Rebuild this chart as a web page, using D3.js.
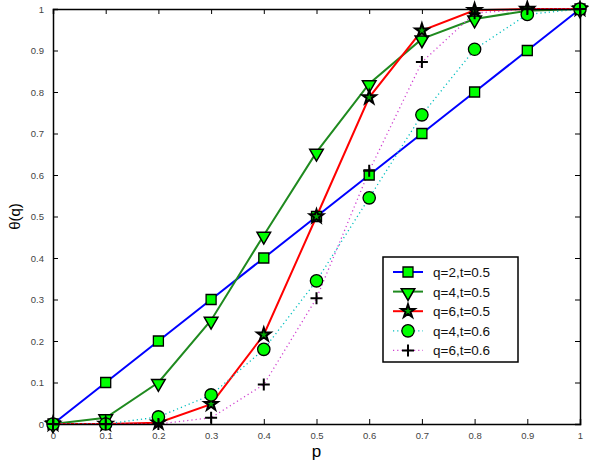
<!DOCTYPE html>
<html>
<head>
<meta charset="utf-8">
<script src="https://cdn.jsdelivr.net/npm/d3@7.9.0/dist/d3.min.js"></script>
<style>
  body { margin: 0; background: #fff; }
  svg { display: block; font-family: "Liberation Sans", Arial, sans-serif; }
</style>
</head>
<body>
<svg id="chart"></svg>
<script>
const pValues = [0, 0.1, 0.2, 0.3, 0.4, 0.5, 0.6, 0.7, 0.8, 0.9, 1];
const q2t05 = [0, 0.1, 0.2, 0.3, 0.4, 0.5, 0.6, 0.7, 0.8, 0.9, 1];
const q4t05 = [0, 0.015, 0.1, 0.25, 0.455, 0.655, 0.82, 0.928, 0.976, 0.996, 1];
const q6t05 = [0, 0.0, 0.003, 0.048, 0.215, 0.5, 0.787, 0.948, 0.997, 1, 1];
const q4t06 = [0, 0.0, 0.017, 0.07, 0.18, 0.345, 0.545, 0.745, 0.903, 0.987, 1];
const q6t06 = [0, 0.0, 0.0, 0.015, 0.095, 0.303, 0.61, 0.872, 0.99, 1, 1];
const xTicks = [0, 0.1, 0.2, 0.3, 0.4, 0.5, 0.6, 0.7, 0.8, 0.9, 1];
const yTicks = [0, 0.1, 0.2, 0.3, 0.4, 0.5, 0.6, 0.7, 0.8, 0.9, 1];
const seriesNames = ["q=2,t=0.5", "q=4,t=0.5", "q=6,t=0.5", "q=4,t=0.6", "q=6,t=0.6"];

const svgWidth = 589, svgHeight = 464;
const margin = { top: 9, right: 9, bottom: 40, left: 53 };
const width = svgWidth - margin.left - margin.right;
const height = svgHeight - margin.top - margin.bottom;

const svg = d3.select("#chart").attr("width", svgWidth).attr("height", svgHeight);
const g = svg.append("g").attr("transform", `translate(${margin.left},${margin.top})`);

const xScale = d3.scaleLinear().domain([0, 1]).range([0, width]);
const yScale = d3.scaleLinear().domain([0, 1]).range([height, 0]);

const series = [
  { name: seriesNames[0], values: q2t05, color: "#0000ff", dash: null, marker: "square" },
  { name: seriesNames[1], values: q4t05, color: "#1f8a1f", dash: null, marker: "tri" },
  { name: seriesNames[2], values: q6t05, color: "#ff0000", dash: null, marker: "star" },
  { name: seriesNames[3], values: q4t06, color: "#00bfbf", dash: "1.2 3", marker: "circle" },
  { name: seriesNames[4], values: q6t06, color: "#d040d0", dash: "1.2 3", marker: "plus" }
];

const line = d3.line()
  .x((d, i) => xScale(pValues[i]))
  .y(d => yScale(d));

// lines first, then markers on top
series.forEach(s => {
  g.append("path")
    .datum(s.values)
    .attr("d", line)
    .attr("fill", "none")
    .attr("stroke", s.color)
    .attr("stroke-width", s.dash ? 1.3 : 2)
    .attr("stroke-dasharray", s.dash);
});

const symbols = {
  square: d3.symbol().type(d3.symbolSquare).size(100),
  tri: d3.symbol().type(d3.symbolTriangle).size(80),
  star: d3.symbol().type(d3.symbolStar).size(55),
  circle: d3.symbol().type(d3.symbolCircle).size(120),
  plus: d3.symbol().type(d3.symbolCross).size(100)
};

function drawMarker(sel, kind) {
  if (kind === "plus") {
    sel.append("path").attr("d", "M-6,0H6M0,-6V6")
      .attr("stroke", "#000").attr("stroke-width", 2).attr("fill", "none");
  } else if (kind === "tri") {
    sel.append("path").attr("d", symbols.tri()).attr("transform", "rotate(180) translate(0,-1)")
      .attr("fill", "#00ff00").attr("stroke", "#000").attr("stroke-width", 1.5);
  } else if (kind === "star") {
    sel.append("path").attr("d", symbols.star())
      .attr("fill", "#00aa00").attr("stroke", "#000").attr("stroke-width", 2);
  } else {
    sel.append("path").attr("d", symbols[kind]())
      .attr("fill", "#00ff00").attr("stroke", "#000").attr("stroke-width", 1.3);
  }
}

series.forEach(s => {
  s.values.forEach((v, i) => {
    const m = g.append("g").attr("transform", `translate(${xScale(pValues[i])},${yScale(v)})`);
    drawMarker(m, s.marker);
  });
});

// axes box
const xAxisB = d3.axisBottom(xScale).tickValues(xTicks).tickSize(-5).tickPadding(8).tickFormat(d3.format("~g"));
const xAxisT = d3.axisTop(xScale).tickValues(xTicks).tickSize(-5).tickFormat("");
const yAxisL = d3.axisLeft(yScale).tickValues(yTicks).tickSize(-5).tickPadding(9).tickFormat(d3.format("~g"));
const yAxisR = d3.axisRight(yScale).tickValues(yTicks).tickSize(-5).tickFormat("");

function styleAxis(ax) {
  ax.select(".domain").attr("stroke", "#000").attr("stroke-width", 1.5);
  ax.selectAll(".tick line").attr("stroke", "#000").attr("stroke-width", 1);
  ax.selectAll(".tick text").attr("fill", "#444").style("font-size", "9.5px");
}

styleAxis(g.append("g").attr("transform", `translate(0,${height})`).call(xAxisB));
styleAxis(g.append("g").call(xAxisT));
styleAxis(g.append("g").call(yAxisL));
styleAxis(g.append("g").attr("transform", `translate(${width},0)`).call(yAxisR));

svg.append("text")
  .attr("x", margin.left + width / 2)
  .attr("y", 457)
  .attr("text-anchor", "middle")
  .style("font-size", "17px")
  .text("p");

svg.append("text")
  .attr("transform", "rotate(-90)")
  .attr("x", -(margin.top + height / 2))
  .attr("y", 20)
  .attr("text-anchor", "middle")
  .style("font-size", "15px")
  .text("θ(q)");

// legend
const legend = svg.append("g").attr("transform", "translate(383,257)");
legend.append("rect")
  .attr("width", 135).attr("height", 105)
  .attr("fill", "#fff").attr("stroke", "#000").attr("stroke-width", 1.5);

series.forEach((s, i) => {
  const y = 15 + i * 19.6;
  legend.append("line")
    .attr("x1", 10).attr("x2", 40).attr("y1", y).attr("y2", y)
    .attr("stroke", s.color)
    .attr("stroke-width", s.dash ? 1.3 : 2)
    .attr("stroke-dasharray", s.dash);
  drawMarker(legend.append("g").attr("transform", `translate(25,${y})`), s.marker);
  legend.append("text")
    .attr("x", 50).attr("y", y + 5)
    .style("font-size", "13.5px")
    .attr("fill", "#111")
    .text(s.name);
});
</script>
</body>
</html>
